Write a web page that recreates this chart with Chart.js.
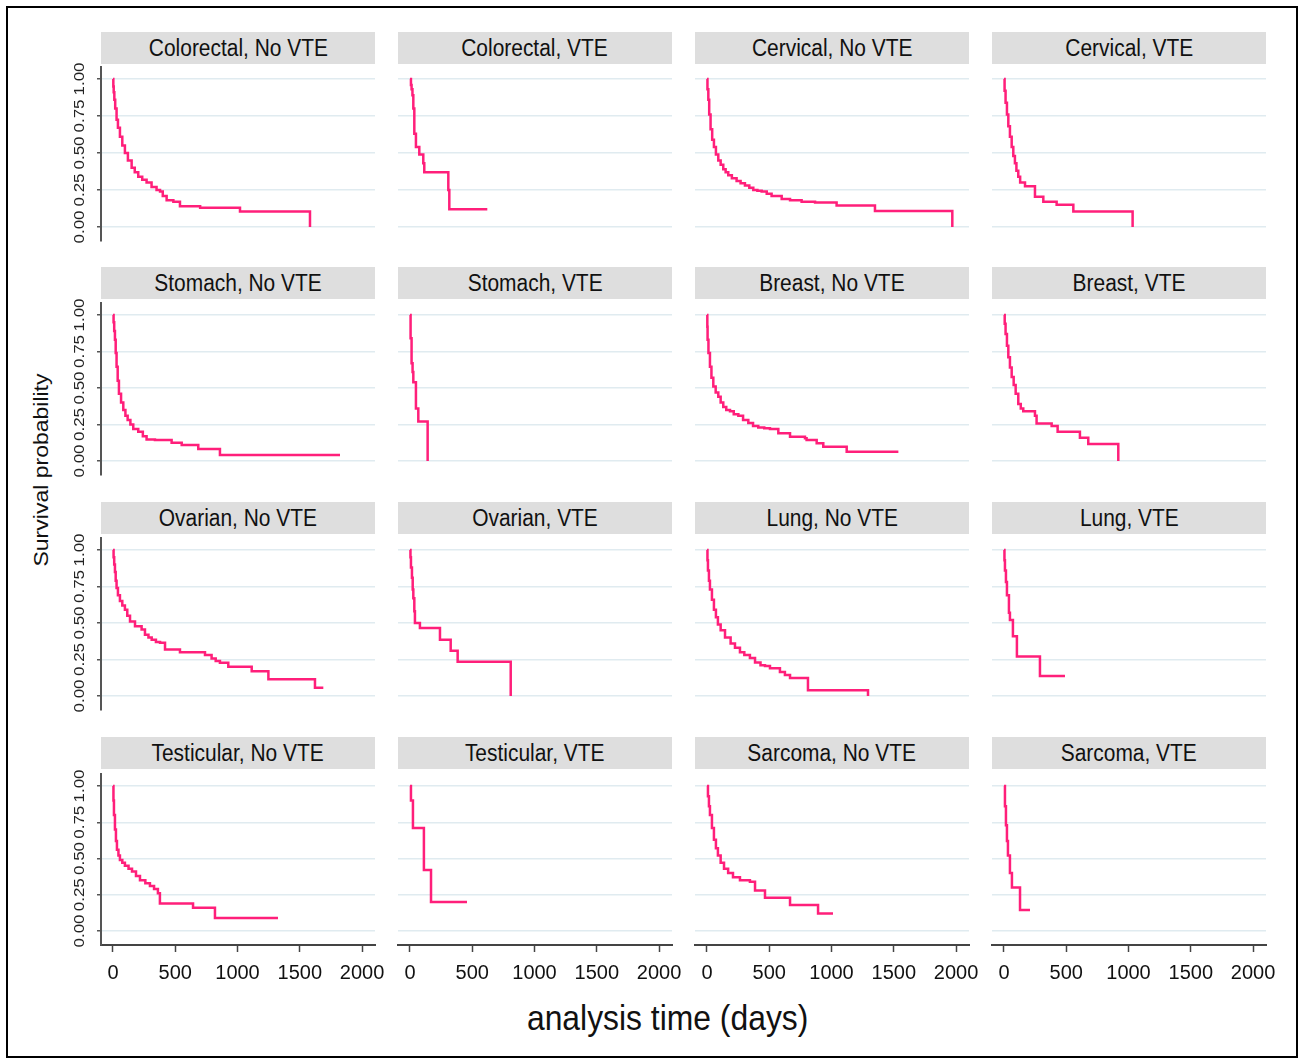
<!DOCTYPE html>
<html>
<head>
<meta charset="utf-8">
<script src="https://cdn.jsdelivr.net/npm/chart.js@4.4.1/dist/chart.umd.min.js"></script>
<style>
  html, body { margin: 0; padding: 0; background: #fff; }
  body { width: 1302px; height: 1060px; position: relative; overflow: hidden; font-family: "Liberation Sans", Arial, sans-serif; }
  .frame { position: absolute; left: 6px; top: 6px; width: 1288px; height: 1048px; border: 2px solid #000; }
  .strip { position: absolute; width: 274px; height: 32px; background: #dedede; text-align: center; line-height: 32px; font-size: 23px; color: #111; }
  .strip span, .xtitle span { display: inline-block; transform: scaleX(0.91); }
  .panel { position: absolute; }
  .xtitle { position: absolute; left: 418px; top: 996px; width: 500px; height: 44px; line-height: 44px; text-align: center; font-size: 35px; color: #111; }
  .ytitle { position: absolute; left: -89px; top: 457px; width: 260px; height: 26px; line-height: 26px; text-align: center; font-size: 23px; color: #111; transform: rotate(-90deg) scaleY(0.91); }
</style>
</head>
<body>
<div class="frame"></div>
<div class="xtitle"><span>analysis time (days)</span></div>
<div class="ytitle">Survival probability</div>
<script>
const X_TICKS = [0, 500, 1000, 1500, 2000];
const Y_TICKS = [0, 0.25, 0.5, 0.75, 1];
const Y_TICK_LABELS = ['0.00', '0.25', '0.50', '0.75', '1.00'];

// Kaplan-Meier steps: day of each drop, survival after it
const colorectalNoVteDays = [0, 3, 6, 11, 18, 29, 40, 56, 75, 96, 120, 150, 175, 203, 235, 270, 310, 350, 378, 400, 431, 485, 538, 700, 1020, 1582];
const colorectalNoVteSurv = [1, 0.95, 0.91, 0.86, 0.80, 0.725, 0.67, 0.61, 0.55, 0.50, 0.45, 0.40, 0.37, 0.34, 0.32, 0.30, 0.27, 0.25, 0.24, 0.21, 0.18, 0.17, 0.14, 0.13, 0.104, 0];
const colorectalVteDays = [0, 8, 13, 20, 27, 35, 48, 75, 107, 115, 308, 316, 621];
const colorectalVteSurv = [1, 0.96, 0.93, 0.89, 0.80, 0.63, 0.54, 0.49, 0.43, 0.37, 0.25, 0.12, 0.12];
const cervicalNoVteDays = [0, 4, 11, 18, 29, 42, 56, 72, 91, 110, 131, 150, 171, 200, 238, 270, 305, 340, 372, 405, 439, 480, 519, 600, 667, 760, 868, 1041, 1349, 1970];
const cervicalNoVteSurv = [1, 0.93, 0.86, 0.76, 0.66, 0.59, 0.54, 0.49, 0.45, 0.42, 0.39, 0.37, 0.35, 0.33, 0.31, 0.295, 0.28, 0.265, 0.25, 0.245, 0.24, 0.225, 0.21, 0.19, 0.18, 0.17, 0.165, 0.145, 0.108, 0];
const cervicalVteDays = [0, 5, 13, 24, 35, 48, 62, 75, 88, 100, 115, 130, 169, 249, 316, 423, 557, 1033];
const cervicalVteSurv = [1, 0.92, 0.84, 0.76, 0.68, 0.61, 0.54, 0.48, 0.43, 0.38, 0.34, 0.30, 0.275, 0.205, 0.17, 0.15, 0.104, 0];

const stomachNoVteDays = [0, 5, 10, 16, 22, 29, 38, 48, 65, 83, 100, 118, 140, 163, 203, 240, 270, 337, 471, 552, 685, 859, 1823];
const stomachNoVteSurv = [1, 0.95, 0.89, 0.83, 0.74, 0.645, 0.55, 0.46, 0.40, 0.35, 0.31, 0.28, 0.25, 0.22, 0.20, 0.17, 0.148, 0.143, 0.125, 0.109, 0.082, 0.041, 0.041];
const stomachVteDays = [0, 5, 13, 21, 27, 48, 67, 142];
const stomachVteSurv = [1, 0.84, 0.67, 0.61, 0.54, 0.36, 0.27, 0];
const breastNoVteDays = [0, 3, 5, 12, 24, 36, 51, 70, 91, 110, 131, 155, 185, 215, 252, 290, 332, 370, 412, 460, 506, 573, 667, 787, 800, 881, 934, 1122, 1537];
const breastNoVteSurv = [1, 0.92, 0.83, 0.74, 0.645, 0.57, 0.51, 0.47, 0.44, 0.40, 0.37, 0.35, 0.34, 0.32, 0.31, 0.28, 0.26, 0.24, 0.23, 0.225, 0.22, 0.19, 0.166, 0.155, 0.144, 0.121, 0.098, 0.064, 0.064];
const breastVteDays = [0, 6, 13, 24, 35, 48, 62, 78, 94, 115, 135, 155, 249, 262, 383, 431, 610, 677, 918];
const breastVteSurv = [1, 0.94, 0.87, 0.79, 0.71, 0.64, 0.576, 0.52, 0.46, 0.39, 0.36, 0.34, 0.31, 0.257, 0.24, 0.20, 0.16, 0.116, 0];

const ovarianNoVteDays = [0, 5, 10, 16, 22, 29, 40, 56, 75, 96, 115, 137, 177, 230, 257, 285, 311, 345, 378, 418, 538, 739, 792, 825, 859, 926, 1114, 1248, 1622, 1689];
const ovarianNoVteSurv = [1, 0.95, 0.90, 0.85, 0.79, 0.74, 0.69, 0.65, 0.62, 0.59, 0.55, 0.51, 0.477, 0.455, 0.42, 0.40, 0.386, 0.37, 0.364, 0.318, 0.30, 0.28, 0.257, 0.24, 0.227, 0.20, 0.17, 0.114, 0.057, 0.057];
const ovarianVteDays = [0, 4, 8, 16, 22, 27, 35, 40, 80, 241, 327, 383, 809];
const ovarianVteSurv = [1, 0.95, 0.88, 0.81, 0.73, 0.67, 0.58, 0.50, 0.466, 0.386, 0.31, 0.234, 0];
const lungNoVteDays = [0, 4, 8, 16, 24, 40, 56, 72, 88, 110, 145, 190, 225, 265, 300, 345, 386, 430, 466, 506, 586, 626, 667, 811, 1293];
const lungNoVteSurv = [1, 0.93, 0.86, 0.79, 0.73, 0.66, 0.59, 0.54, 0.49, 0.45, 0.40, 0.36, 0.33, 0.30, 0.28, 0.26, 0.23, 0.21, 0.205, 0.19, 0.164, 0.144, 0.123, 0.04, 0];
const lungVteDays = [0, 4, 8, 16, 24, 40, 48, 72, 104, 289, 490];
const lungVteSurv = [1, 0.93, 0.86, 0.78, 0.69, 0.57, 0.52, 0.41, 0.27, 0.137, 0.137];

const testicularNoVteDays = [0, 4, 8, 16, 24, 32, 44, 56, 75, 96, 125, 153, 185, 217, 260, 297, 330, 361, 377, 643, 819, 1325];
const testicularNoVteSurv = [1, 0.90, 0.80, 0.70, 0.62, 0.56, 0.52, 0.49, 0.47, 0.45, 0.43, 0.41, 0.38, 0.35, 0.33, 0.31, 0.29, 0.26, 0.19, 0.16, 0.09, 0.09];
const testicularVteDays = [0, 8, 24, 112, 169, 458];
const testicularVteSurv = [1, 0.90, 0.71, 0.42, 0.20, 0.20];
const sarcomaNoVteDays = [0, 8, 16, 24, 40, 56, 72, 88, 110, 137, 170, 209, 265, 345, 386, 466, 667, 892, 1012];
const sarcomaNoVteSurv = [1, 0.93, 0.86, 0.80, 0.71, 0.63, 0.57, 0.52, 0.47, 0.43, 0.40, 0.37, 0.35, 0.34, 0.28, 0.23, 0.18, 0.12, 0.12];
const sarcomaVteDays = [0, 8, 16, 24, 32, 48, 64, 129, 209];
const sarcomaVteSurv = [1, 0.86, 0.73, 0.62, 0.52, 0.40, 0.30, 0.145, 0.145];

const panels = [
  { title: 'Colorectal, No VTE', days: colorectalNoVteDays, surv: colorectalNoVteSurv },
  { title: 'Colorectal, VTE',    days: colorectalVteDays,   surv: colorectalVteSurv },
  { title: 'Cervical, No VTE',   days: cervicalNoVteDays,   surv: cervicalNoVteSurv },
  { title: 'Cervical, VTE',      days: cervicalVteDays,     surv: cervicalVteSurv },
  { title: 'Stomach, No VTE',    days: stomachNoVteDays,    surv: stomachNoVteSurv },
  { title: 'Stomach, VTE',       days: stomachVteDays,      surv: stomachVteSurv },
  { title: 'Breast, No VTE',     days: breastNoVteDays,     surv: breastNoVteSurv },
  { title: 'Breast, VTE',        days: breastVteDays,       surv: breastVteSurv },
  { title: 'Ovarian, No VTE',    days: ovarianNoVteDays,    surv: ovarianNoVteSurv },
  { title: 'Ovarian, VTE',       days: ovarianVteDays,      surv: ovarianVteSurv },
  { title: 'Lung, No VTE',       days: lungNoVteDays,       surv: lungNoVteSurv },
  { title: 'Lung, VTE',          days: lungVteDays,         surv: lungVteSurv },
  { title: 'Testicular, No VTE', days: testicularNoVteDays, surv: testicularNoVteSurv },
  { title: 'Testicular, VTE',    days: testicularVteDays,   surv: testicularVteSurv },
  { title: 'Sarcoma, No VTE',    days: sarcomaNoVteDays,    surv: sarcomaNoVteSurv },
  { title: 'Sarcoma, VTE',       days: sarcomaVteDays,      surv: sarcomaVteSurv },
];

// layout of the 4x4 grid (px)
const COLS = [101, 398, 695, 992];
const STRIP_TOP = [32, 267, 502, 737];
const Y_ONE = [79, 315, 550, 786];
const Y_ZERO = [227, 461, 696, 931];
const PLOT_W = 274;
const X_MIN = -96, X_MAX = 2104;
const Y_AXIS_W = 40, X_AXIS_H = 48;
const PAD = 24; // room round each canvas so tick labels are not clipped
const FONT = '"Liberation Sans", Arial, sans-serif';

// rotated y tick labels, like Stata draws them
const yTickLabels = {
  id: 'yTickLabels',
  afterDraw(chart) {
    const { ctx } = chart;
    const y = chart.scales.y;
    ctx.save();
    ctx.font = `17px ${FONT}`;
    ctx.fillStyle = '#222';
    ctx.textAlign = 'center';
    ctx.textBaseline = 'middle';
    Y_TICKS.forEach((v, k) => {
      ctx.save();
      ctx.translate(y.right - 21, y.getPixelForValue(v));
      ctx.rotate(-Math.PI / 2);
      ctx.scale(1, 0.91);
      ctx.fillText(Y_TICK_LABELS[k], 0, 0);
      ctx.restore();
    });
    ctx.restore();
  },
};

panels.forEach((p, i) => {
  const r = Math.floor(i / 4), c = i % 4;
  const left = c === 0 ? Y_AXIS_W : 0;
  const bottom = r === 3 ? X_AXIS_H : 0;
  const span = Y_ZERO[r] - Y_ONE[r];
  const top = Y_ONE[r] - 12, base = Y_ZERO[r] + 14;

  const strip = document.createElement('div');
  strip.className = 'strip';
  strip.style.left = COLS[c] + 'px';
  strip.style.top = STRIP_TOP[r] + 'px';
  strip.innerHTML = `<span>${p.title}</span>`;
  document.body.appendChild(strip);

  const wrap = document.createElement('div');
  wrap.className = 'panel';
  wrap.style.cssText = `left:${COLS[c] - left - PAD}px;top:${top - PAD}px;width:${PLOT_W + left + 2 * PAD}px;height:${base - top + bottom + 2 * PAD}px`;
  const canvas = document.createElement('canvas');
  wrap.appendChild(canvas);
  document.body.appendChild(wrap);

  new Chart(canvas.getContext('2d'), {
    type: 'line',
    data: {
      datasets: [{
        data: p.days.map((d, k) => ({ x: d, y: p.surv[k] })),
        borderColor: '#ff1f7a',
        borderWidth: 2.5,
        pointRadius: 0,
        stepped: true,
        fill: false,
      }],
    },
    options: {
      responsive: true,
      maintainAspectRatio: false,
      animation: false,
      layout: { padding: PAD },
      plugins: { legend: { display: false }, tooltip: { enabled: false } },
      scales: {
        x: {
          type: 'linear', min: X_MIN, max: X_MAX,
          afterBuildTicks: (s) => { s.ticks = X_TICKS.map((v) => ({ value: v })); },
          afterFit: (s) => { s.height = bottom; s.paddingLeft = 0; s.paddingRight = 0; },
          ticks: { display: r === 3, color: '#111', font: { size: 20, family: FONT }, padding: 9, maxRotation: 0, autoSkip: false, callback: (v) => String(v) },
          grid: { display: r === 3, drawOnChartArea: false, drawTicks: true, tickLength: 7, tickColor: '#444', tickWidth: 1.5 },
          border: { display: r === 3, color: '#444', width: 2 },
        },
        y: {
          type: 'linear', min: -14 / span, max: 1 + 12 / span,
          afterBuildTicks: (s) => { s.ticks = Y_TICKS.map((v) => ({ value: v })); },
          afterFit: (s) => { s.width = left; s.paddingTop = 0; s.paddingBottom = 0; },
          ticks: { display: false },
          grid: { color: '#e0ebf0', lineWidth: 1.5, drawTicks: c === 0, tickLength: 4, tickColor: '#555', tickWidth: 1.5 },
          border: { display: c === 0, color: '#555', width: 2 },
        },
      },
    },
    plugins: c === 0 ? [yTickLabels] : [],
  });
});
</script>
</body>
</html>
